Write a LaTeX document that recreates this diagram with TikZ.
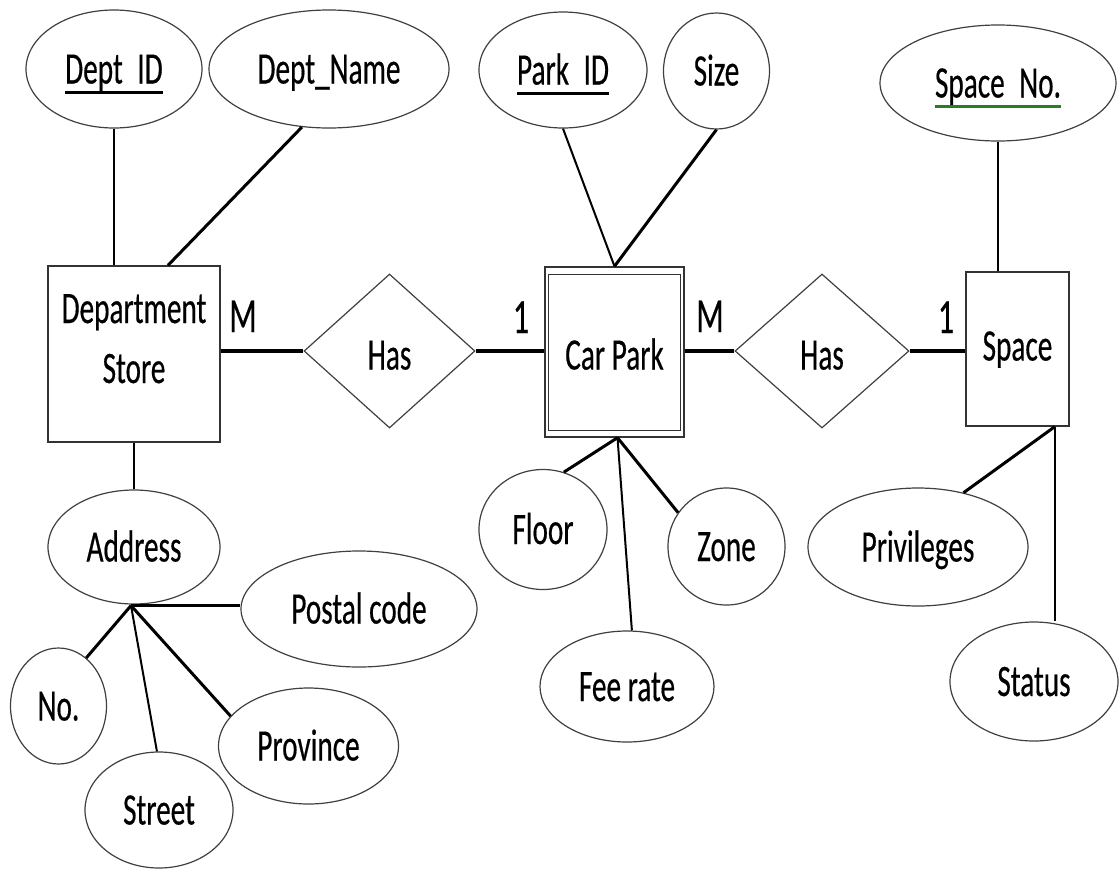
\documentclass[tikz,border=0pt]{standalone}
\usepackage{fontspec}
\usepackage{xcolor}
\newfontfamily\erfont{Carlito}[FakeStretch=0.65,FakeBold=0.4]
\usetikzlibrary{shapes.geometric,calc}
\definecolor{spellgreen}{RGB}{40,125,40}
% key attribute: text with a heavy rule 7pt--10pt below the baseline
\newcommand\keyattr[2][black]{\leavevmode\setbox0\hbox{#2}%
  \copy0\llap{\textcolor{#1}{\rule[-10pt]{\wd0}{3pt}}}}
% gap the width of an underscore, bridged by the key rule
\newcommand\usgap{\hphantom{\_}}

\begin{document}
\begin{tikzpicture}[x=1pt,y=-1pt,
  lbl/.style={font=\erfont\fontsize{45}{60}\selectfont, inner sep=0pt,
              text height=29pt, text depth=0pt},
  attr/.style={lbl, ellipse, draw=black!75, line width=1.2pt},
  entity/.style={lbl, rectangle, draw=black!80, line width=1.4pt},
  rel/.style={lbl, diamond, draw=black!75, line width=1.2pt},
  card/.style={font=\erfont\fontsize{49}{58}\selectfont, inner sep=0pt,
               text height=32pt, text depth=0pt},
  link/.style={line width=2pt},
  linkb/.style={line width=3pt},
  linkc/.style={line width=3.6pt}]

\fill[white] (0,0) rectangle (1119,868);
\useasboundingbox (0,0) rectangle (1119,868);

% ---------- entities ----------
\node[entity, minimum width=172pt, minimum height=176pt] (dstore) at (134,354)
  {\raisebox{-14.5pt}{\begin{tabular}[b]{@{}c@{}}Department\\Store\end{tabular}}};
\node[entity, minimum width=139pt, minimum height=170pt] (carpark) at (614.5,352)
  {\raisebox{-3pt}{Car Park}};
\draw[draw=black!80, line width=1.4pt]
  ($(carpark.north west)+(4,8)$) rectangle ($(carpark.south east)+(-4,-7)$);
\node[entity, minimum width=103pt, minimum height=154pt] (space) at (1017.5,349)
  {\raisebox{3pt}{Space}};

% ---------- relationships ----------
\node[rel, minimum width=171pt, minimum height=154pt] (has1) at (389.5,351) {\raisebox{-4pt}{Has}};
\node[rel, minimum width=174pt, minimum height=154pt] (has2) at (822,351)   {\raisebox{-4pt}{Has}};

% ---------- attributes ----------
\node[attr, minimum width=176pt, minimum height=118pt] (did)   at (114,69)   {\keyattr{Dept\usgap ID}};
\node[attr, minimum width=240pt, minimum height=118pt] (dname) at (329,69)   {Dept\_Name};
\node[attr, minimum width=168pt, minimum height=116pt] (pid)   at (563,70)   {\keyattr{Park\usgap ID}};
\node[attr, minimum width=106pt, minimum height=116pt] (size)  at (716.5,71) {Size};
\node[attr, minimum width=236pt, minimum height=116pt] (spno)  at (998,83)
  {\keyattr[spellgreen]{Space\usgap No.}};

\node[attr, minimum width=172pt, minimum height=114pt] (address)  at (134,547)   {Address};
\node[attr, minimum width=236pt, minimum height=116pt] (postal)   at (359,609)   {Postal code};
\node[attr, minimum width=96pt,  minimum height=116pt] (no)       at (58.5,706)  {No.};
\node[attr, minimum width=148pt, minimum height=116pt] (street)   at (159,810)   {Street};
\node[attr, minimum width=180pt, minimum height=116pt] (province) at (308.5,746) {Province};

\node[attr, minimum width=128pt, minimum height=120pt] (floor)   at (543,529.5) {Floor};
\node[attr, minimum width=117pt, minimum height=117pt] (zone)    at (726.5,546.5) {Zone};
\node[attr, minimum width=174pt, minimum height=111pt] (feerate) at (627,686.5) {Fee rate};

\node[attr, minimum width=220pt, minimum height=118pt] (priv)   at (918,547)    {Privileges};
\node[attr, minimum width=168pt, minimum height=119pt] (status) at (1034,681.5) {Status};

% ---------- cardinalities ----------
\node[card] (c1) at (243,316) {M};
\node[card] (c2) at (521,317) {1};
\node[card] (c3) at (710,316) {M};
\node[card] (c4) at (946,317) {1};

% ---------- relationship links ----------
\draw[linkc] (has1.west -| dstore.east) -- (has1.west);
\draw[linkc] (has1.east) -- (has1.east -| carpark.west);
\draw[linkc] (has2.west -| carpark.east) -- (has2.west);
\draw[linkc] (has2.east) -- (has2.east -| space.west);

% ---------- attribute links: Department Store ----------
\draw[link]  (did.south) -- (did.south |- dstore.north);
\draw[linkb] (dname.245) -- ($(dstore.north)+(34,0)$);
\draw[link]  (address.north) -- (address.north |- dstore.south);
\coordinate (adhub) at ($(address.south)+(-3,1)$);
\draw[linkc] (adhub) -- (adhub -| postal.west);
\draw[linkb] (adhub) -- (no.60);
\draw[link]  (adhub) -- (street.92);
\draw[linkb] (adhub) -- (province.159);

% ---------- attribute links: Car Park ----------
\draw[link]  (pid.south) -- (carpark.north);
\draw[linkb] (size.south) -- (carpark.north);
\coordinate (cphub) at ($(carpark.south)+(3,0)$);
\draw[linkb] (cphub) -- (floor.70);
\draw[link]  (cphub) -- (feerate.85);
\draw[linkb] (cphub) -- (zone.145);

% ---------- attribute links: Space ----------
\draw[link]  (spno.south) -- (spno.south |- space.north);
\coordinate (sphub) at ($(space.south east)+(-15,0)$);
\draw[linkb] (sphub) -- (priv.50);
\draw[link]  (sphub) -- (sphub |- status.north);

\end{tikzpicture}
\end{document}
